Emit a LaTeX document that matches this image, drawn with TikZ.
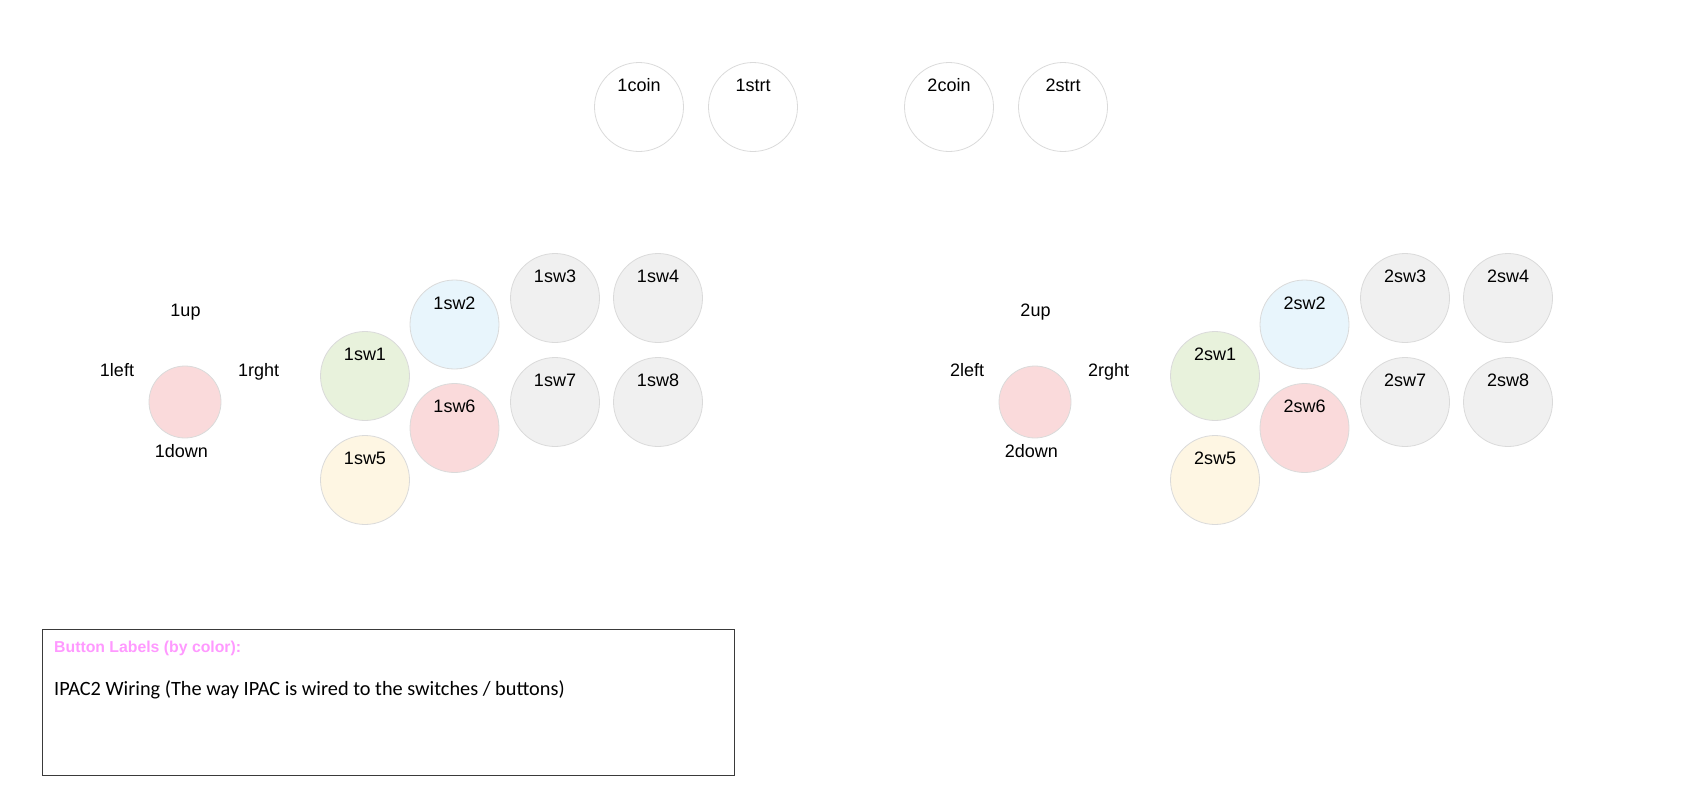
\documentclass[tikz,border=0pt]{standalone}
\usepackage{fontspec}
\setmainfont{Liberation Sans}
\newfontfamily\wirefont{Carlito}
\definecolor{apRing}{HTML}{DADADA}
\definecolor{apPink}{HTML}{FADADB}
\definecolor{apGreen}{HTML}{E8F2DC}
\definecolor{apBlue}{HTML}{E8F5FC}
\definecolor{apCream}{HTML}{FEF6E3}
\definecolor{apGrey}{HTML}{F0F0F0}
\definecolor{apTitle}{HTML}{FF99FF}
\definecolor{apFrame}{HTML}{3A3A3A}
\usetikzlibrary{positioning}

\begin{document}
\begin{tikzpicture}[x=1pt, y=-1pt,
  btn/.style={circle, draw=apRing, line width=0.8pt, minimum size=89pt, inner sep=0pt,
    text height=13pt, text depth=44pt, font=\fontsize{18}{20}\selectfont},
  stick/.style={circle, draw=apRing, line width=0.8pt, fill=apPink, minimum size=72pt},
  dir/.style={anchor=base, inner sep=0pt, font=\fontsize{18}{20}\selectfont},
  legend/.style={draw=apFrame, line width=1pt, minimum width=692pt, minimum height=146pt},
  note/.style={anchor=base west, inner sep=0pt}
]
  \useasboundingbox (0,0) rectangle (1702,795);

  % start / coin buttons
  \node[btn] (coin1) at (639,107) {1coin};
  \node[btn] (strt1) at (753,107) {1strt};
  \node[btn] (coin2) at (949,107) {2coin};
  \node[btn] (strt2) at (1063,107) {2strt};

  % player 1
  \node[stick] (joy1) at (185,402) {};
  \node[dir] (up1) at (185.5,316) {1up};
  \node[dir] (left1) at (117,376) {1left};
  \node[dir] (rght1) at (258.7,376) {1rght};
  \node[dir] (down1) at (181.4,457) {1down};
  \node[btn, fill=apGreen] (sw11) at (365,376) {1sw1};
  \node[btn, fill=apBlue] (sw12) at (454.5,324.5) {1sw2};
  \node[btn, fill=apGrey] (sw13) at (555,298) {1sw3};
  \node[btn, fill=apGrey] (sw14) at (658,298) {1sw4};
  \node[btn, fill=apCream] (sw15) at (365,480) {1sw5};
  \node[btn, fill=apPink] (sw16) at (454.5,428) {1sw6};
  \node[btn, fill=apGrey] (sw17) at (555,402) {1sw7};
  \node[btn, fill=apGrey] (sw18) at (658,402) {1sw8};

  % player 2
  \node[stick] (joy2) at (1035,402) {};
  \node[dir] (up2) at (1035.5,316) {2up};
  \node[dir] (left2) at (967,376) {2left};
  \node[dir] (rght2) at (1108.7,376) {2rght};
  \node[dir] (down2) at (1031.4,457) {2down};
  \node[btn, fill=apGreen] (sw21) at (1215,376) {2sw1};
  \node[btn, fill=apBlue] (sw22) at (1304.5,324.5) {2sw2};
  \node[btn, fill=apGrey] (sw23) at (1405,298) {2sw3};
  \node[btn, fill=apGrey] (sw24) at (1508,298) {2sw4};
  \node[btn, fill=apCream] (sw25) at (1215,480) {2sw5};
  \node[btn, fill=apPink] (sw26) at (1304.5,428) {2sw6};
  \node[btn, fill=apGrey] (sw27) at (1405,402) {2sw7};
  \node[btn, fill=apGrey] (sw28) at (1508,402) {2sw8};

  % legend box
  \node[legend] (legend) at (388,702) {};
  \node[note, text=apTitle, font=\bfseries\fontsize{15.8}{18}\selectfont] (title) at (54,652.5) {Button Labels (by color):};
  \node[note, font=\wirefont\fontsize{20.3}{24}\selectfont] (wiring) at (54,695) {IPAC2 Wiring (The way IPAC is wired to the switches / buttons)};
\end{tikzpicture}
\end{document}
